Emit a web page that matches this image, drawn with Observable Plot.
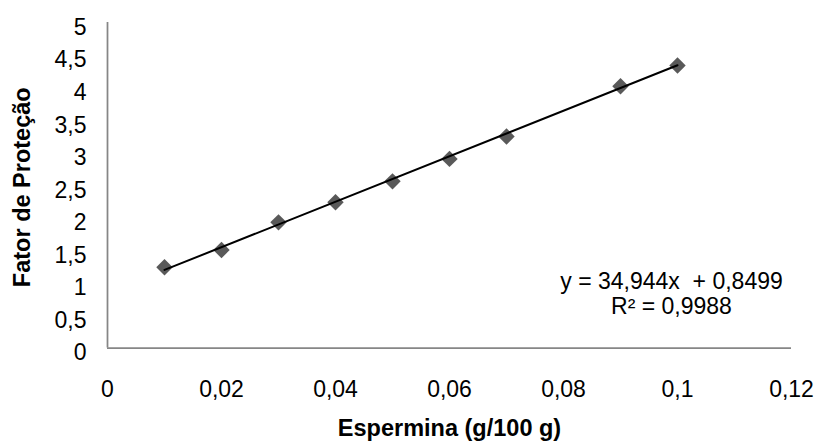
<!DOCTYPE html>
<html>
<head>
<meta charset="utf-8">
<script src="https://cdn.jsdelivr.net/npm/d3@7"></script>
<script src="https://cdn.jsdelivr.net/npm/@observablehq/plot@0.6"></script>
<style>
  html, body { margin: 0; padding: 0; background: #ffffff; }
  #chart { width: 817px; height: 448px; }
</style>
</head>
<body>
<div id="chart"></div>
<script>
// Data
const espermina = [0.01, 0.02, 0.03, 0.04, 0.05, 0.06, 0.07, 0.09, 0.10];
const fatorProtecao = [1.24, 1.505, 1.93, 2.24, 2.56, 2.905, 3.25, 4.02, 4.34];

// Linear trend line endpoints (y = 34,944x + 0,8499 over the data range)
const trendX = [0.01, 0.10];
const trendY = [1.199, 4.344];

const xTicks = [0, 0.02, 0.04, 0.06, 0.08, 0.10, 0.12];
const yTicks = [0, 0.5, 1, 1.5, 2, 2.5, 3, 3.5, 4, 4.5, 5];

const xTitle = "Espermina (g/100 g)";
const yTitle = "Fator de Proteção";
const equationLines = ["y = 34,944x  + 0,8499", "R² = 0,9988"];

const points = espermina.map((x, i) => ({x, y: fatorProtecao[i]}));
const trend = trendX.map((x, i) => ({x, y: trendY[i]}));
const fmt = v => String(+v.toFixed(4)).replace(".", ",");

const chart = Plot.plot({
  width: 817,
  height: 448,
  marginLeft: 107,
  marginRight: 26,
  marginTop: 22,
  marginBottom: 100.5,
  style: {
    fontFamily: "'Liberation Sans', Arial, sans-serif",
    fontSize: "23px",
    color: "#000000",
    background: "#ffffff",
    overflow: "visible"
  },
  x: {domain: [0, 0.12]},
  y: {domain: [0, 5]},
  marks: [
    Plot.axisX({ticks: xTicks, tickFormat: fmt, tickSize: 0, tickPadding: 32.5, label: null, fontSize: 23}),
    Plot.axisY({ticks: yTicks, tickFormat: fmt, tickSize: 0, tickPadding: 21, dy: 5, label: null, fontSize: 23}),
    Plot.ruleX([0], {stroke: "#868686", strokeWidth: 1.75}),
    Plot.ruleY([0], {stroke: "#868686", strokeWidth: 1.75}),
    Plot.dot(points, {x: "x", y: "y", symbol: "diamond2", r: 7.4, fill: "#595959", stroke: "none"}),
    Plot.line(trend, {x: "x", y: "y", stroke: "#000000", strokeWidth: 2}),
    Plot.text([yTitle], {frameAnchor: "left", textAnchor: "middle", rotate: -90, dx: -84.7, dy: 2, fontWeight: "bold", fontSize: 23.5, fill: "#000000"}),
    Plot.text([xTitle], {frameAnchor: "bottom", textAnchor: "middle", dy: 87.5, fontWeight: "bold", fontSize: 23.5, fill: "#000000"}),
    Plot.text([equationLines.join("\n")], {frameAnchor: "top-left", dx: 564, dy: 248, textAnchor: "middle", lineHeight: 1.11, fontSize: 23, fill: "#000000"})
  ]
});
document.getElementById("chart").appendChild(chart);
</script>
</body>
</html>
